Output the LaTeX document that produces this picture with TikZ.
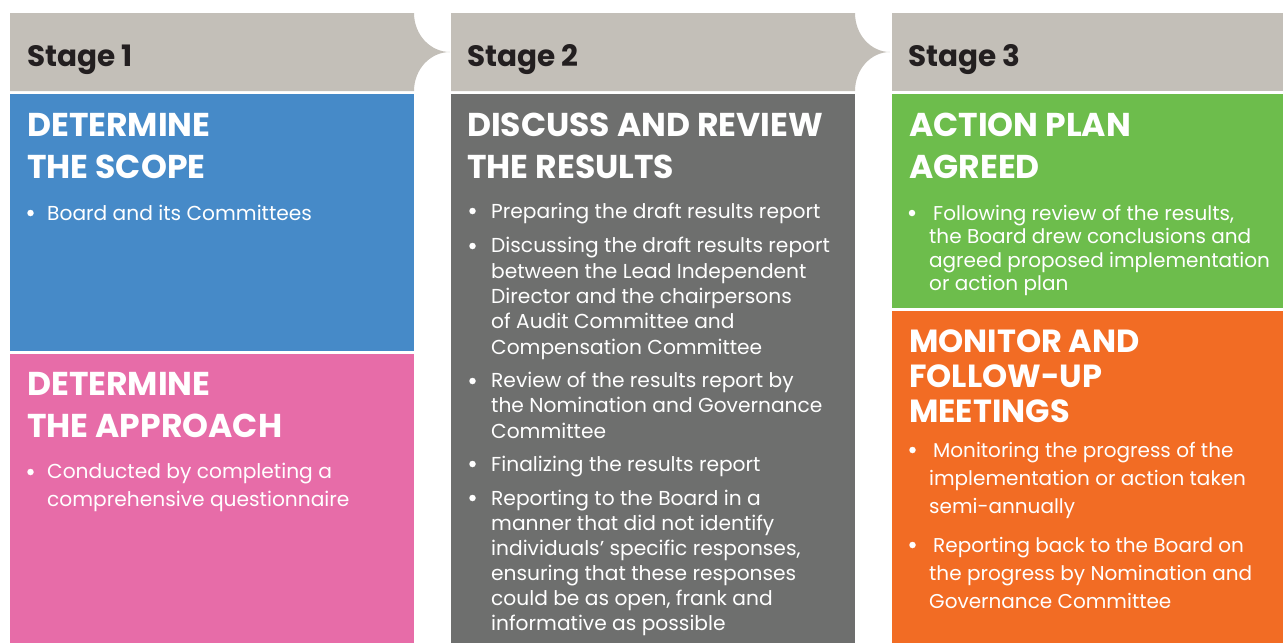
\documentclass[tikz,border=0pt]{standalone}
\usepackage{fontspec}
\setmainfont{Poppins}

\definecolor{hdrgray}{HTML}{C3BFB8}
\definecolor{stagetext}{HTML}{231F20}
\definecolor{scopeblue}{HTML}{468AC8}
\definecolor{approachpink}{HTML}{E76CA8}
\definecolor{reviewgray}{HTML}{6E6F6E}
\definecolor{plangreen}{HTML}{6DBD4C}
\definecolor{monitororange}{HTML}{F26C24}

\begin{document}
\begin{tikzpicture}[x=1pt,y=-1pt,
  stage/.style={anchor=base west,inner sep=0pt,text=stagetext,font=\bfseries\fontsize{29.5}{30}\selectfont},
  head/.style={anchor=base west,inner sep=0pt,align=left,text=white,font=\bfseries\fontsize{33}{42}\selectfont},
  item/.style={anchor=base west,inner sep=0pt,align=left,text=white,font=\fontsize{20.2}{25.3}\selectfont},
  dot/.style={circle,fill=white,inner sep=0pt,minimum size=6.5pt}]
\useasboundingbox (0,0) rectangle (1283,643);

% stage headers
\fill[hdrgray] (10,13) -- (414,13) .. controls (414,34.5) and (430.1,52) .. (450,52)
  .. controls (430.1,52) and (414,69.5) .. (414,91) -- (10,91) -- cycle;
\fill[hdrgray] (451,13) -- (855,13) .. controls (855,34.5) and (870.7,52) .. (890,52)
  .. controls (870.7,52) and (855,69.5) .. (855,91) -- (451,91) -- cycle;
\fill[hdrgray] (892,13) rectangle (1283,91);

% boxes
\fill[scopeblue] (10,94) rectangle (414,351);
\fill[approachpink] (10,354) rectangle (414,643);
\fill[reviewgray] (451,94) rectangle (855,643);
\fill[plangreen] (892,94) rectangle (1283,308);
\fill[monitororange] (892,311) rectangle (1283,643);

\node[stage] (s1) at (27,66) {Stage 1};
\node[stage] (s2) at (467,66) {Stage 2};
\node[stage] (s3) at (908,66) {Stage 3};

% stage 1 (multi-line nodes sit on their last baseline)
\node[head] (scope) at (27,178) {DETERMINE\\THE SCOPE};
\node[dot] (scope1) at (30.5,213) {};
\node[item] (scopet1) at (47,220) {Board and its Committees};
\node[head] (approach) at (27,437) {DETERMINE\\THE APPROACH};
\node[dot] (approach1) at (30.5,472) {};
\node[item,font=\fontsize{20.2}{28}\selectfont] (approacht1) at (47,506) {Conducted by completing a\\comprehensive questionnaire};

% stage 2
\node[head] (review) at (467,178) {DISCUSS AND REVIEW\\THE RESULTS};
\node[dot] (review1) at (472.5,211) {};
\node[item] (reviewt1) at (491,218) {Preparing the draft results report};
\node[dot] (review2) at (472.5,246) {};
\node[item] (reviewt2) at (491,354) {Discussing the draft results report\\between the Lead Independent\\Director and the chairpersons\\of Audit Committee and\\Compensation Committee};
\node[dot] (review3) at (472.5,381) {};
\node[item] (reviewt3) at (491,438) {Review of the results report by\\the Nomination and Governance\\Committee};
\node[dot] (review4) at (472.5,464) {};
\node[item] (reviewt4) at (491,471) {Finalizing the results report};
\node[dot] (review5) at (472.5,498) {};
\node[item,font=\fontsize{20.2}{25}\selectfont] (reviewt5) at (491,630) {Reporting to the Board in a\\manner that did not identify\\individuals' specific responses,\\ensuring that these responses\\could be as open, frank and\\informative as possible};

% stage 3
\node[head] (plan) at (909,178) {ACTION PLAN\\AGREED};
\node[dot] (plan1) at (912,213) {};
\node[item,font=\fontsize{20}{23.5}\selectfont] (plant1) at (929,290.5) {\hspace*{4pt}Following review of the results,\\the Board drew conclusions and\\agreed proposed implementation\\or action plan};
\node[head,font=\bfseries\fontsize{32}{35}\selectfont] (monitor) at (909,422) {MONITOR AND\\FOLLOW-UP\\MEETINGS};
\node[dot] (monitor1) at (912.5,450) {};
\node[item,font=\fontsize{20}{28}\selectfont] (monitort1) at (929,513) {\hspace*{4pt}Monitoring the progress of the\\implementation or action taken\\semi-annually};
\node[dot] (monitor2) at (912.5,545) {};
\node[item,font=\fontsize{20}{28}\selectfont] (monitort2) at (929,608) {\hspace*{4pt}Reporting back to the Board on\\the progress by Nomination and\\Governance Committee};
\end{tikzpicture}
\end{document}
